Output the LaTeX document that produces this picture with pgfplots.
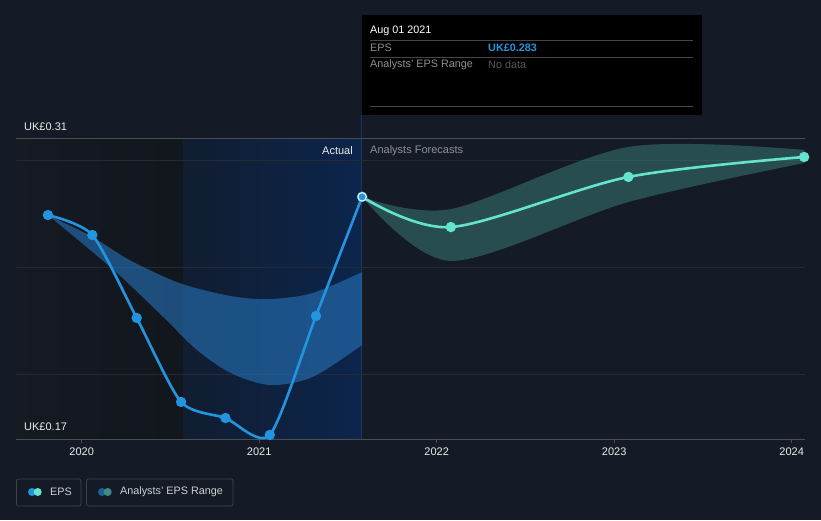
\documentclass[border=0pt]{standalone}
\usepackage{fontspec}
\setmainfont{Liberation Sans}
\usepackage{pgfplots}
\pgfplotsset{compat=1.18}
\usepgfplotslibrary{fillbetween}
\definecolor{bg}{RGB}{21,27,38}
\definecolor{leftA}{RGB}{21,26,35}
\definecolor{leftB}{RGB}{18,22,29}
\definecolor{blueA}{RGB}{17,29,48}
\definecolor{blueB}{RGB}{12,37,76}
\definecolor{vline}{RGB}{28,54,94}
\definecolor{gridc}{RGB}{36,42,54}
\definecolor{axisc}{RGB}{72,77,88}
\definecolor{epsblue}{RGB}{35,148,223}
\definecolor{fcteal}{RGB}{100,228,206}
\definecolor{bandblue}{RGB}{38,115,185}
\definecolor{bandteal}{RGB}{62,140,132}
\definecolor{legblue}{RGB}{30,95,145}
\definecolor{legteal}{RGB}{65,140,130}
\definecolor{txt}{RGB}{235,235,235}
\definecolor{legtxt}{RGB}{205,207,211}
\definecolor{txtgray}{RGB}{140,144,150}
\definecolor{txtdark}{RGB}{88,88,88}
\definecolor{boxc}{RGB}{60,66,78}
\definecolor{ttline}{RGB}{70,70,70}
\pagecolor{bg}

\pgfplotstableread{
x y
2019.81 0.2745
2020.06 0.2652
2020.31 0.2265
2020.56 0.1873
2020.81 0.1798
2021.06 0.1719
2021.32 0.2274
2021.58 0.2830
}\epsactual

\pgfplotstableread{
x y
2021.58 0.2830
2022.08 0.2689
2023.08 0.2923
2024.07 0.3016
}\epsforecast

\pgfplotstableread{
x y
2021.58 0.2830
2022.08 0.2773
2023.08 0.3063
2024.07 0.3049
}\fcupper

\pgfplotstableread{
x y
2021.58 0.2830
2022.08 0.2531
2023.08 0.2806
2024.07 0.2988
}\fclower

\pgfplotstableread{
x y
2019.81 0.2745
2020.06 0.2643
2020.27 0.2535
2020.55 0.2428
2020.84 0.2367
2021.06 0.2353
2021.30 0.2381
2021.58 0.2479
}\pastupper

\pgfplotstableread{
x y
2019.81 0.2745
2020.18 0.2489
2020.46 0.2269
2020.65 0.2115
2020.84 0.2008
2021.06 0.1952
2021.30 0.1989
2021.58 0.2139
}\pastlower

\begin{document}%
\begin{tikzpicture}
\path (0pt,0pt) rectangle (821pt,520pt);
\draw[vline, line width=1pt] (361.5pt,381pt) -- (361.5pt,405pt);

\begin{axis}[
  set layers,
  at={(16pt,81pt)}, anchor=south west,
  scale only axis, width=789pt, height=300pt,
  xmin=2019.630, xmax=2024.075, ymin=0.17, ymax=0.31,
  axis x line*=bottom, axis y line*=left,
  y axis line style={draw=none},
  x axis line style={color=axisc, line width=1pt},
  xtick={2020,2021,2022,2023,2024},
  xticklabels={2020,2021,2022,2023,2024},
  x tick style={color=axisc, line width=1pt},
  tick align=outside, major tick length=4pt,
  x tick label style={font=\fontsize{11}{13}\selectfont, text=txt, yshift=-1pt},
  ytick={0.20,0.25,0.30}, yticklabels={},
  y tick style={draw=none},
  ymajorgrids, grid style={color=gridc, line width=1pt},
  clip mode=global,
]
\begin{pgfonlayer}{axis background}
\shade[left color=leftA, right color=leftB] (axis cs:2019.630,0.17) rectangle (axis cs:2020.571,0.31);
\shade[left color=blueA, right color=blueB] (axis cs:2020.571,0.17) rectangle (axis cs:2021.576,0.31);
\draw[vline, line width=1pt] (axis cs:2021.576,0.17) -- (axis cs:2021.576,0.31);
\end{pgfonlayer}

\addplot[name path=pu, draw=none, smooth] table {\pastupper};
\addplot[name path=pl, draw=none, smooth] table {\pastlower};
\addplot[bandblue, fill opacity=0.6, draw=none] fill between[of=pu and pl];

\addplot[name path=fu, draw=none, smooth] table {\fcupper};
\addplot[name path=fl, draw=none, smooth] table {\fclower};
\addplot[bandteal, fill opacity=0.45, draw=none] fill between[of=fu and fl];

\addplot[fcteal, line width=2.6pt, smooth, mark=*, mark size=3.8pt,
  mark options={fill=fcteal, draw=none}] table {\epsforecast};
\addplot[epsblue, line width=2.6pt, smooth, tension=0.42, mark=*, mark size=3.8pt,
  mark options={fill=epsblue, draw=none}] table {\epsactual};
\addplot[only marks, mark=*, mark size=4.2pt,
  mark options={fill=epsblue, draw=white, line width=1pt}] coordinates {(2021.58,0.2830)};
\end{axis}

\draw[axisc, line width=1pt] (16pt,381pt) -- (805pt,381pt);

\node[anchor=west, text=txt, font=\fontsize{11}{13}\selectfont, inner sep=0pt] at (24pt,393pt) {UK£0.31};
\node[anchor=west, text=txt, font=\fontsize{11}{13}\selectfont, inner sep=0pt] at (24pt,93pt) {UK£0.17};
\node[anchor=east, text=txt, font=\fontsize{11}{13}\selectfont, inner sep=0pt] at (353pt,369pt) {Actual};
\node[anchor=west, text=txtgray, font=\fontsize{11}{13}\selectfont, inner sep=0pt] at (370pt,369pt) {Analysts Forecasts};

% tooltip
\fill[black] (362pt,405pt) rectangle (702pt,505pt);
\node[anchor=west, text=white, font=\fontsize{10.8}{13}\selectfont, inner sep=0pt] at (370pt,489pt) {Aug 01 2021};
\draw[ttline, line width=0.8pt] (370pt,480pt) -- (693pt,480pt);
\node[anchor=west, text=txtgray, font=\fontsize{10.8}{13}\selectfont, inner sep=0pt] at (370pt,472pt) {EPS};
\node[anchor=west, text=epsblue, font=\fontsize{10.8}{13}\selectfont\bfseries, inner sep=0pt] at (488pt,472pt) {UK£0.283};
\draw[ttline, line width=0.8pt] (370pt,463pt) -- (693pt,463pt);
\node[anchor=west, text=txtgray, font=\fontsize{10.8}{13}\selectfont, inner sep=0pt] at (370pt,455pt) {Analysts' EPS Range};
\node[anchor=west, text=txtdark, font=\fontsize{10.8}{13}\selectfont, inner sep=0pt] at (488pt,455pt) {No data};
\draw[ttline, line width=0.8pt] (370pt,414pt) -- (693pt,414pt);

% legend
\draw[boxc, line width=0.8pt, rounded corners=2pt] (16.5pt,14pt) rectangle (81pt,41pt);
\fill[epsblue] (32pt,28pt) circle (4pt);
\fill[fcteal] (37.7pt,28pt) circle (4pt);
\node[anchor=west, text=legtxt, font=\fontsize{10.8}{13}\selectfont, inner sep=0pt] at (50pt,28pt) {EPS};
\draw[boxc, line width=0.8pt, rounded corners=2pt] (86.5pt,14pt) rectangle (233pt,41pt);
\fill[legblue] (102pt,28pt) circle (4pt);
\fill[legteal] (107.7pt,28pt) circle (4pt);
\node[anchor=west, text=legtxt, font=\fontsize{10.8}{13}\selectfont, inner sep=0pt] at (120pt,28pt) {Analysts' EPS Range};
\end{tikzpicture}%
\end{document}
